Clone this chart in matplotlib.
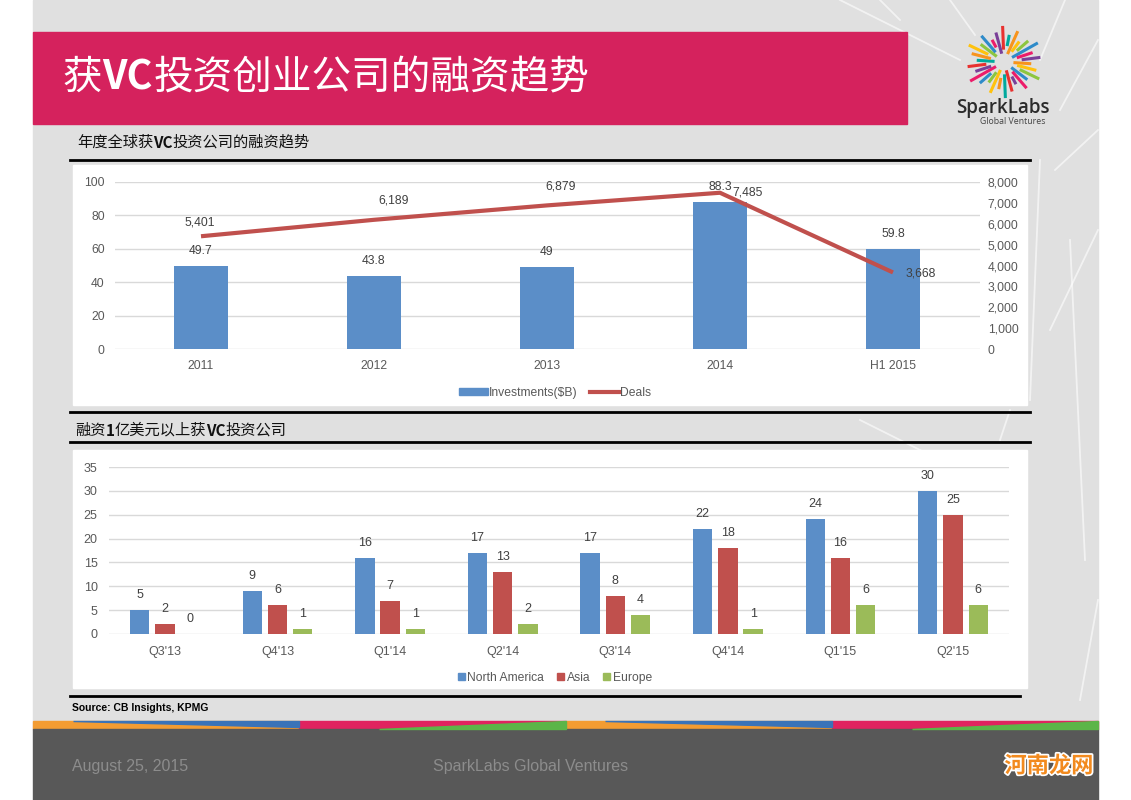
import numpy as np
import matplotlib.pyplot as plt
from matplotlib.patches import Rectangle, Polygon
from matplotlib.lines import Line2D
import matplotlib.patheffects as pe

plt.rcParams['font.family'] = ['Liberation Sans', 'Noto Sans CJK SC', 'DejaVu Sans']

W, H = 1131, 800

# 年度数据
years = ['2011', '2012', '2013', '2014', 'H1 2015']
investments = [49.7, 43.8, 49, 88.3, 59.8]
deals = [5401, 6189, 6879, 7485, 3668]
deal_label_offsets = [(-1, 14), (20, 19), (14, 19), (28, 0), (28, -1)]  # pixels

# 季度数据
quarters = ["Q3'13", "Q4'13", "Q1'14", "Q2'14", "Q3'14", "Q4'14", "Q1'15", "Q2'15"]
north_america = [5, 9, 16, 17, 17, 22, 24, 30]
asia = [2, 6, 7, 13, 8, 18, 16, 25]
europe = [0, 1, 1, 2, 4, 1, 6, 6]

blue = '#5b8ec8'
red = '#c0504d'
green = '#9bbb59'
txt = '#404040'
grid = '#d9d9d9'


def box(x0, y0, x1, y1):
    return [x0 / W, 1 - y1 / H, (x1 - x0) / W, (y1 - y0) / H]


def mixed(ax, x, y, parts, size, color, zorder=2):
    # chain text pieces so that "VC" can be bold inside Chinese text
    prev = ax.text(x, y, parts[0][0], color=color, fontsize=size, va='center', ha='left',
                   family=['Noto Sans CJK SC'], weight=parts[0][1], zorder=zorder)
    for s, w in parts[1:]:
        prev = ax.annotate(s, xy=(1, 0), xycoords=prev, va='bottom', ha='left', color=color,
                           fontsize=size, family=['Noto Sans CJK SC'], weight=w, zorder=zorder)


fig = plt.figure(figsize=(W / 100, H / 100), dpi=100)
bg = fig.add_axes([0, 0, 1, 1])
bg.set_xlim(0, W)
bg.set_ylim(H, 0)
bg.axis('off')

# slide background with faint white decoration lines
bg.add_patch(Rectangle((33, 0), 1065, 730, color='#e0e0e0', zorder=0))
deco = [(840, 0, 960, 60), (950, 0, 975, 35), (1065, 0, 1040, 60), (1098, 40, 1060, 110),
        (1098, 130, 1055, 170), (1098, 230, 1050, 330), (1070, 240, 1085, 560),
        (1040, 160, 1030, 400), (860, 420, 960, 470), (1010, 410, 1000, 440),
        (1098, 600, 1080, 700), (880, 0, 900, 20)]
for (x0, y0, x1, y1) in deco:
    bg.plot([x0, x1], [y0, y1], color='white', lw=1.3, alpha=0.6, zorder=0.5)

# title banner
bg.add_patch(Rectangle((33, 32), 874, 92, color='#d5225d', zorder=1))
mixed(bg, 63, 78, [('获', 'light'), ('VC', 'bold'), ('投资创业公司的融资趋势', 'light')], 28.5, 'white')

# logo
cols = ['#f7941d', '#ffc20e', '#8dc63f', '#2e8bc9', '#ec1c6a', '#7a3f98', '#e8312f', '#00a99d']
cx, cy = 1004, 62
angles = np.linspace(0, 2 * np.pi, 30, endpoint=False) + 0.07
for i, a in enumerate(angles):
    r0 = 9 + (i % 3) * 4
    r1 = 26 + (i * 7 % 5) * 3
    ex, ey = np.cos(a) * 1.05, np.sin(a) * 0.95
    bg.plot([cx + r0 * ex, cx + r1 * ex], [cy + r0 * ey, cy + r1 * ey],
            color=cols[i % len(cols)], lw=2.2, solid_capstyle='butt', zorder=2)
bg.text(1003, 108, 'SparkLabs', fontsize=13.5, color='#2b2b2b', ha='center', va='center',
        family=['Open Sans'], weight='semibold', zorder=2)
bg.text(1045, 121, 'Global Ventures', fontsize=6.3, color='#444444', ha='right', va='center',
        family=['Open Sans'], zorder=2)

# section 1 header + panel
mixed(bg, 77, 142, [('年度全球获', 'normal'), ('VC', 'bold'), ('投资公司的融资趋势', 'normal')], 11, '#111111')
bg.plot([70, 1030], [160, 160], color='black', lw=2, zorder=2)
bg.add_patch(Rectangle((73, 165), 954, 240, color='white', zorder=1))

# section 2 header + panel
bg.plot([70, 1030], [412, 412], color='black', lw=2, zorder=2)
mixed(bg, 75, 430, [('融资', 'normal'), ('1', 'bold'), ('亿美元以上获', 'normal'), ('VC', 'bold'),
                    ('投资公司', 'normal')], 11, '#111111')
bg.plot([70, 1030], [442, 442], color='black', lw=2, zorder=2)
bg.add_patch(Rectangle((73, 450), 954, 238, color='white', zorder=1))
bg.plot([70, 1020], [696, 696], color='black', lw=2, zorder=2)
bg.text(72, 708, 'Source: CB Insights, KPMG', fontsize=7.5, weight='bold', color='black',
        va='center', ha='left', zorder=2)

# colour stripe + footer
seg = 1065 / 4
pairs = [('#f39c32', '#3a73b8'), ('#e0235f', '#5cb548'), ('#f39c32', '#3a73b8'), ('#e0235f', '#5cb548')]
for i, (c1, c2) in enumerate(pairs):
    x0 = 33 + i * seg
    x1 = x0 + seg
    bg.add_patch(Rectangle((x0, 721), seg, 8, color=c1, zorder=1))
    if i % 2 == 0:
        bg.add_patch(Polygon([(x0 + 0.15 * seg, 721), (x1, 721), (x1, 727)], color=c2, zorder=1.1))
    else:
        bg.add_patch(Polygon([(x0 + 0.3 * seg, 729), (x1, 729), (x1, 721)], color=c2, zorder=1.1))
bg.add_patch(Rectangle((33, 729), 1065, 71, color='#585858', zorder=1))
bg.text(72, 766, 'August 25, 2015', fontsize=11.5, color='#8c8c8c', va='center', ha='left', zorder=2)
bg.text(433, 766, 'SparkLabs Global Ventures', fontsize=11.5, color='#8c8c8c', va='center', ha='left', zorder=2)
bg.text(1049, 766, '河南龙网', fontsize=16, color='#f28a1e', weight='bold', va='center', ha='center',
        family=['Noto Sans CJK SC'], zorder=3,
        path_effects=[pe.withStroke(linewidth=2.5, foreground='white')])

# chart 1: investments + deals
ax1 = fig.add_axes(box(114.5, 182, 979.5, 349))
x = np.arange(len(years))
ax1.bar(x, investments, width=0.31, color=blue, zorder=2)
for xi, v in zip(x, investments):
    ax1.annotate(f'{v:g}', (xi, v), xytext=(0, 15), textcoords='offset pixels',
                 ha='center', va='center', fontsize=8.7, color=txt)
ax1.set_xlim(-0.5, len(years) - 0.5)
ax1.set_ylim(0, 100)
ax1.set_yticks(range(0, 101, 20))
ax1.set_xticks(x, years)
ax1.grid(axis='y', color=grid, lw=1, zorder=0)
ax1.set_axisbelow(True)
for s in ax1.spines.values():
    s.set_visible(False)
ax1.tick_params(length=0, labelsize=8.7, labelcolor='#595959')
ax1.tick_params(axis='y', pad=7)
ax1.tick_params(axis='x', pad=8)
ax1.patch.set_alpha(0)

ax2 = ax1.twinx()
ax2.plot(x, deals, color=red, lw=3, solid_capstyle='butt', zorder=3)
for xi, v, off in zip(x, deals, deal_label_offsets):
    ax2.annotate(f'{v:,}', (xi, v), xytext=off, textcoords='offset pixels',
                 ha='center', va='center', fontsize=8.7, color=txt)
ax2.set_ylim(0, 8000)
ax2.set_yticks(range(0, 8001, 1000))
ax2.set_yticklabels([f'{v:,}' for v in range(0, 8001, 1000)])
for s in ax2.spines.values():
    s.set_visible(False)
ax2.tick_params(length=0, labelsize=8.7, labelcolor='#595959', pad=6)

h1 = [Rectangle((0, 0), 1, 1, color=blue), Line2D([], [], color=red, lw=3)]
fig.legend(h1, ['Investments($B)', 'Deals'], loc='center', bbox_to_anchor=(555 / W, 1 - 393 / H),
           ncol=2, frameon=False, fontsize=8.7, handlelength=2.4, handleheight=0.5,
           handletextpad=0.1, columnspacing=1.0, labelcolor='#595959')

# chart 2: companies raising $100M+
ax3 = fig.add_axes(box(108.7, 467, 1009.3, 634))
q = np.arange(len(quarters))
step, bw = 0.224, 0.172
for off, vals, c in [(-step, north_america, blue), (0, asia, red), (step, europe, green)]:
    ax3.bar(q + off, vals, width=bw, color=c, zorder=2)
    for xi, v in zip(q + off, vals):
        ax3.annotate(f'{v}', (xi, v), xytext=(0, 15), textcoords='offset pixels',
                     ha='center', va='center', fontsize=9, color=txt)
ax3.set_xlim(-0.5, len(quarters) - 0.5)
ax3.set_ylim(0, 35)
ax3.set_yticks(range(0, 36, 5))
ax3.set_xticks(q, quarters)
ax3.grid(axis='y', color=grid, lw=1, zorder=0)
ax3.set_axisbelow(True)
for s in ax3.spines.values():
    s.set_visible(False)
ax3.tick_params(length=0, labelsize=9, labelcolor='#595959')
ax3.tick_params(axis='y', pad=8)
ax3.tick_params(axis='x', pad=9)
ax3.patch.set_alpha(0)

h2 = [Rectangle((0, 0), 1, 1, color=c) for c in (blue, red, green)]
fig.legend(h2, ['North America', 'Asia', 'Europe'], loc='center', bbox_to_anchor=(555 / W, 1 - 678 / H),
           ncol=3, frameon=False, fontsize=8.7, handlelength=0.55, handleheight=0.55,
           handletextpad=0.2, columnspacing=1.1, labelcolor='#595959')

fig.savefig('out.png', dpi=100)
